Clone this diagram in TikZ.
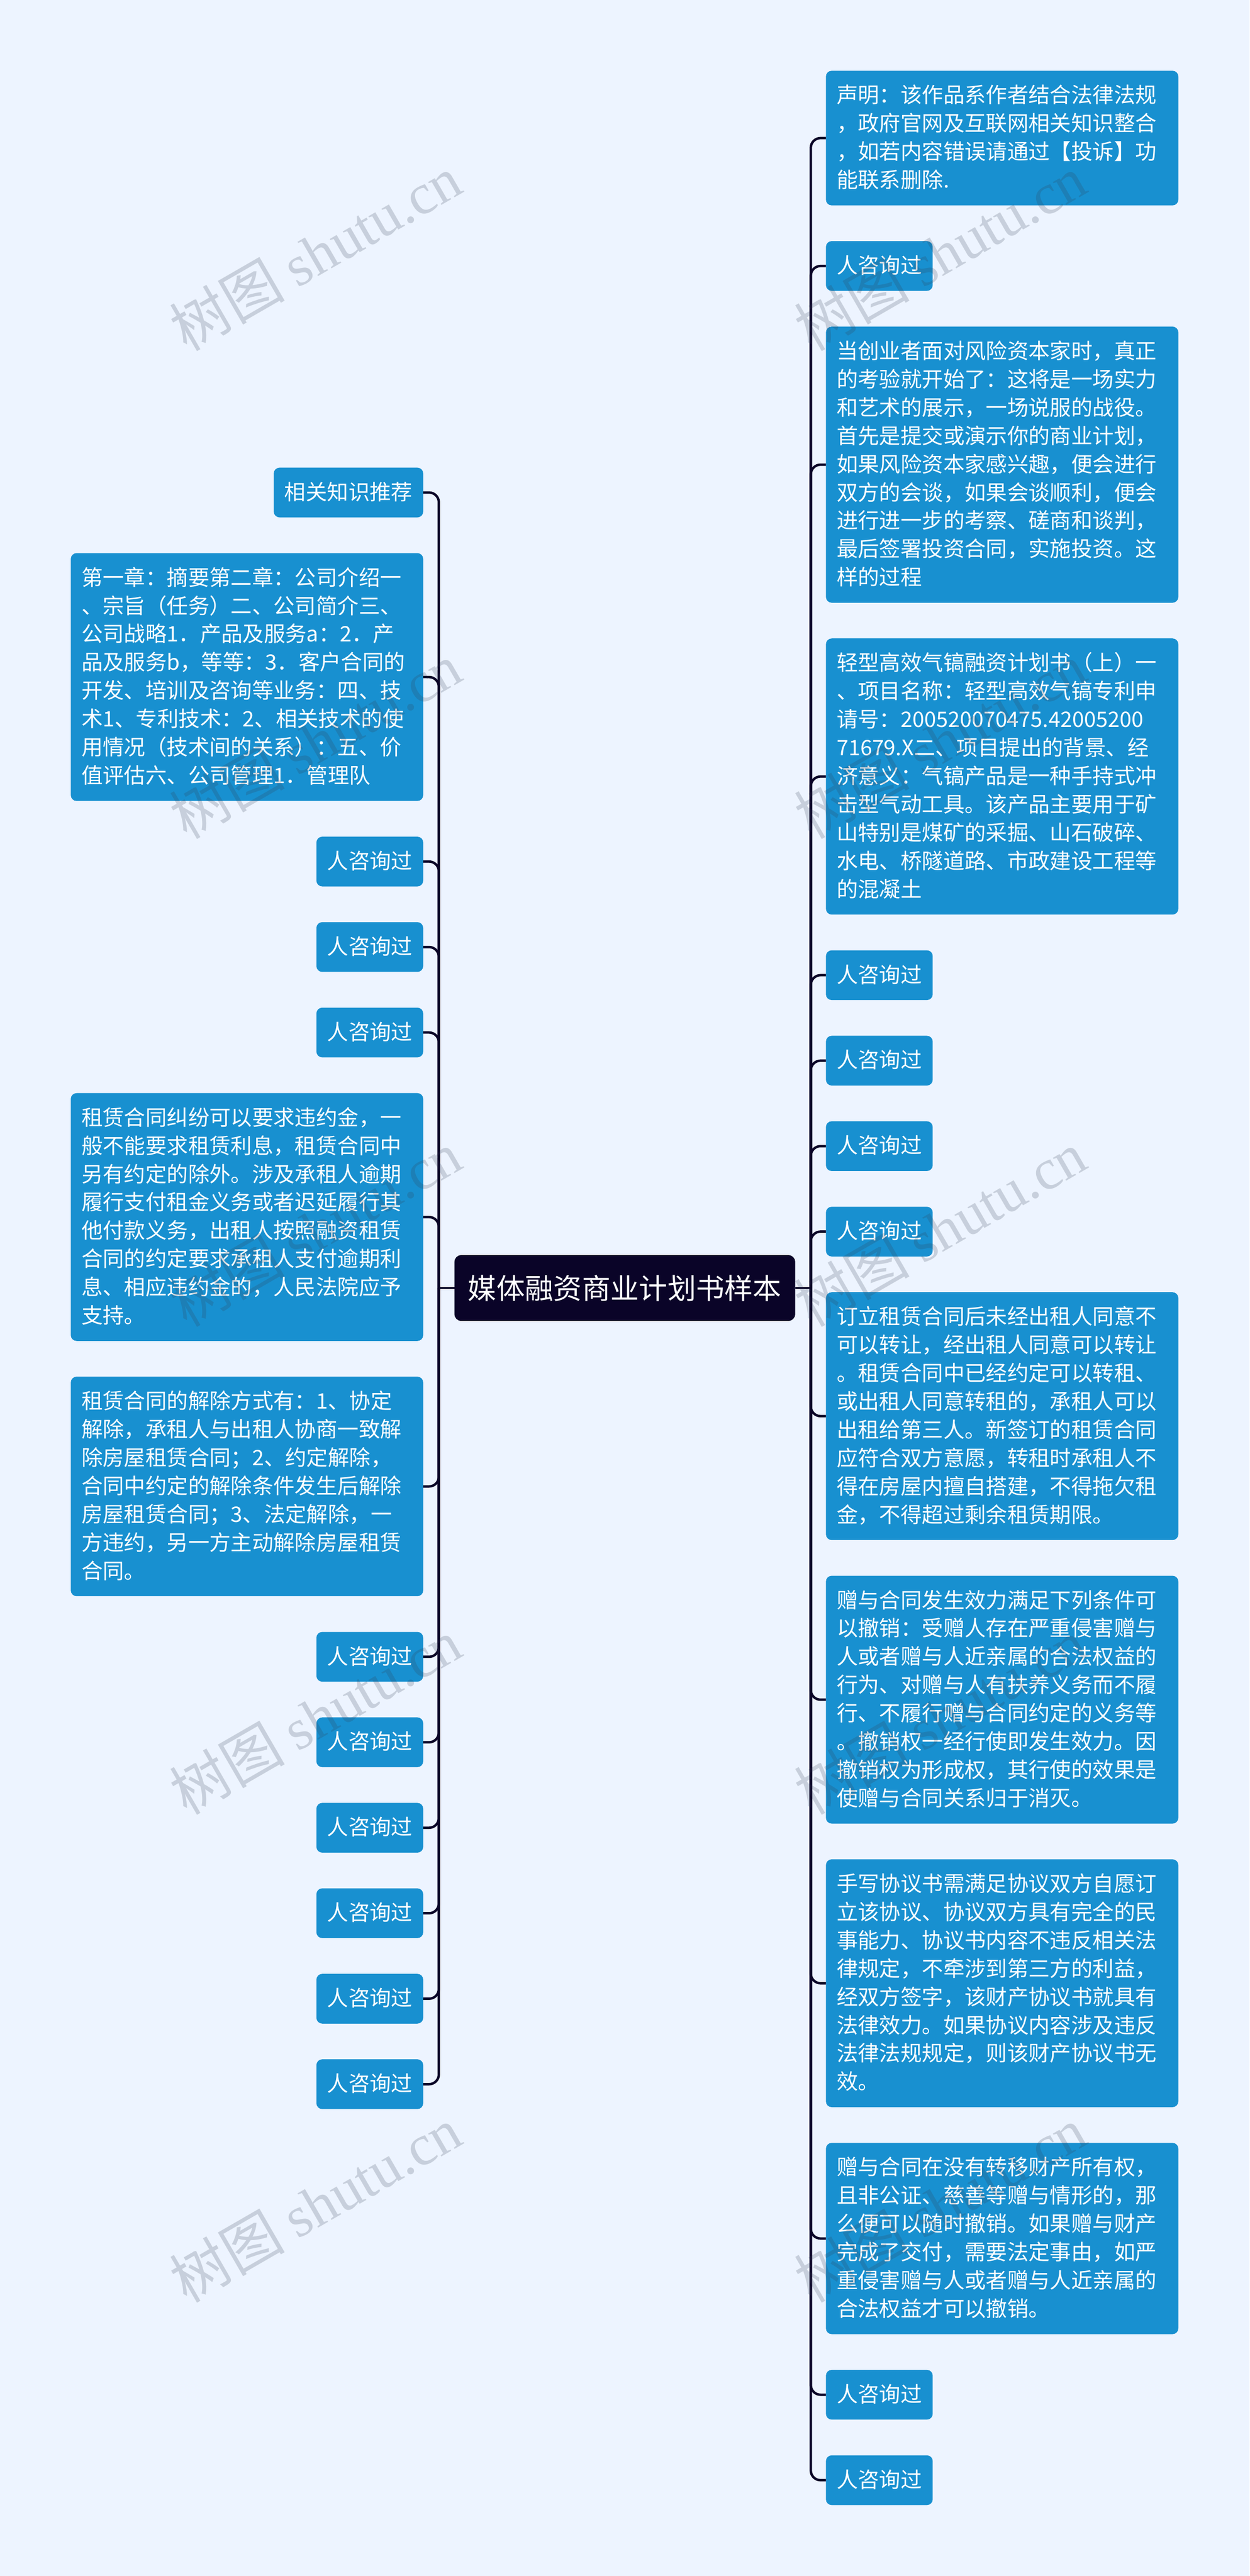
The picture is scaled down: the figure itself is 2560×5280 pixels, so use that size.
\documentclass[tikz,border=0pt]{standalone}
\usepackage{fontspec}
\usepackage{tikz}
\usetikzlibrary{positioning}
\setmainfont{Noto Sans CJK SC}
\newfontfamily\markfont{Liberation Serif}
\definecolor{PageBg}{HTML}{EDF4FF}
\definecolor{LeafBg}{HTML}{1890D0}
\definecolor{RootBg}{HTML}{0A0428}
\definecolor{MarkInk}{HTML}{323C50}
\newcommand{\linestrut}{\rule[-7pt]{0pt}{29pt}}
\tikzstyle{Root}=[fill=RootBg, text=white, rounded corners=7pt, outer sep=0pt, minimum width=349pt, minimum height=67.5pt, inner sep=0pt, font=\fontsize{29.2}{36}\selectfont]
\tikzstyle{Leaf}=[fill=LeafBg, text=white, rounded corners=6pt, outer sep=0pt, inner xsep=11pt, inner ysep=11pt, font=\fontsize{21.85}{29}\selectfont, execute at begin node=\linestrut, execute at end node=\linestrut]
\tikzstyle{Para}=[Leaf, text width=339pt, align=left]
\tikzstyle{Link}=[draw=RootBg, line width=2.5pt, rounded corners=10pt, to path={|- (\tikztotarget)}]
\tikzstyle{Stub}=[draw=RootBg, line width=2.5pt]
\tikzstyle{WaterMark}=[rotate=30, text=MarkInk, text opacity=.2, font=\fontsize{59}{63}\selectfont]

\begin{document}
\begin{tikzpicture}[x=0.5pt, y=-0.5pt, node distance=36.6pt]
		\useasboundingbox (0,0) rectangle (2560,5280);
		\fill [PageBg] (0,0) rectangle (2560,5280);
		\node[Root] (root) at (1280,2640) {媒体融资商业计划书样本};
		\coordinate (trunkL) at (899,2640);
		\coordinate (trunkR) at (1661,2640);
		% left side
		\node[Leaf, anchor=north east] (l1) at (867,958.5) {相关知识推荐};
		\node[Para, below=of l1.south east, anchor=north east] (l2) {第一章：摘要第二章：公司介绍一\\、宗旨（任务）二、公司简介三、\\公司战略1．产品及服务a：2．产\\品及服务b，等等：3．客户合同的\\开发、培训及咨询等业务：四、技\\术1、专利技术：2、相关技术的使\\用情况（技术间的关系）：五、价\\值评估六、公司管理1．管理队};
		\node[Leaf, below=of l2.south east, anchor=north east] (l3) {人咨询过};
		\node[Leaf, below=of l3.south east, anchor=north east] (l4) {人咨询过};
		\node[Leaf, below=of l4.south east, anchor=north east] (l5) {人咨询过};
		\node[Para, below=of l5.south east, anchor=north east] (l6) {租赁合同纠纷可以要求违约金，一\\般不能要求租赁利息，租赁合同中\\另有约定的除外。涉及承租人逾期\\履行支付租金义务或者迟延履行其\\他付款义务，出租人按照融资租赁\\合同的约定要求承租人支付逾期利\\息、相应违约金的，人民法院应予\\支持。};
		\node[Para, below=of l6.south east, anchor=north east] (l7) {租赁合同的解除方式有：1、协定\\解除，承租人与出租人协商一致解\\除房屋租赁合同；2、约定解除，\\合同中约定的解除条件发生后解除\\房屋租赁合同；3、法定解除，一\\方违约，另一方主动解除房屋租赁\\合同。};
		\node[Leaf, below=of l7.south east, anchor=north east] (l8) {人咨询过};
		\node[Leaf, below=of l8.south east, anchor=north east] (l9) {人咨询过};
		\node[Leaf, below=of l9.south east, anchor=north east] (l10) {人咨询过};
		\node[Leaf, below=of l10.south east, anchor=north east] (l11) {人咨询过};
		\node[Leaf, below=of l11.south east, anchor=north east] (l12) {人咨询过};
		\node[Leaf, below=of l12.south east, anchor=north east] (l13) {人咨询过};
		% right side
		\node[Para, anchor=north west] (r1) at (1692,145) {声明：该作品系作者结合法律法规\\，政府官网及互联网相关知识整合\\，如若内容错误请通过【投诉】功\\能联系删除.};
		\node[Leaf, below=of r1.south west, anchor=north west] (r2) {人咨询过};
		\node[Para, below=of r2.south west, anchor=north west] (r3) {当创业者面对风险资本家时，真正\\的考验就开始了：这将是一场实力\\和艺术的展示，一场说服的战役。\\首先是提交或演示你的商业计划，\\如果风险资本家感兴趣，便会进行\\双方的会谈，如果会谈顺利，便会\\进行进一步的考察、磋商和谈判，\\最后签署投资合同，实施投资。这\\样的过程};
		\node[Para, below=of r3.south west, anchor=north west] (r4) {轻型高效气镐融资计划书（上）一\\、项目名称：轻型高效气镐专利申\\请号：200520070475.42005200\\71679.X二、项目提出的背景、经\\济意义：气镐产品是一种手持式冲\\击型气动工具。该产品主要用于矿\\山特别是煤矿的采掘、山石破碎、\\水电、桥隧道路、市政建设工程等\\的混凝土};
		\node[Leaf, below=of r4.south west, anchor=north west] (r5) {人咨询过};
		\node[Leaf, below=of r5.south west, anchor=north west] (r6) {人咨询过};
		\node[Leaf, below=of r6.south west, anchor=north west] (r7) {人咨询过};
		\node[Leaf, below=of r7.south west, anchor=north west] (r8) {人咨询过};
		\node[Para, below=of r8.south west, anchor=north west] (r9) {订立租赁合同后未经出租人同意不\\可以转让，经出租人同意可以转让\\。租赁合同中已经约定可以转租、\\或出租人同意转租的，承租人可以\\出租给第三人。新签订的租赁合同\\应符合双方意愿，转租时承租人不\\得在房屋内擅自搭建，不得拖欠租\\金，不得超过剩余租赁期限。};
		\node[Para, below=of r9.south west, anchor=north west] (r10) {赠与合同发生效力满足下列条件可\\以撤销：受赠人存在严重侵害赠与\\人或者赠与人近亲属的合法权益的\\行为、对赠与人有扶养义务而不履\\行、不履行赠与合同约定的义务等\\。撤销权一经行使即发生效力。因\\撤销权为形成权，其行使的效果是\\使赠与合同关系归于消灭。};
		\node[Para, below=of r10.south west, anchor=north west] (r11) {手写协议书需满足协议双方自愿订\\立该协议、协议双方具有完全的民\\事能力、协议书内容不违反相关法\\律规定，不牵涉到第三方的利益，\\经双方签字，该财产协议书就具有\\法律效力。如果协议内容涉及违反\\法律法规规定，则该财产协议书无\\效。};
		\node[Para, below=of r11.south west, anchor=north west] (r12) {赠与合同在没有转移财产所有权，\\且非公证、慈善等赠与情形的，那\\么便可以随时撤销。如果赠与财产\\完成了交付，需要法定事由，如严\\重侵害赠与人或者赠与人近亲属的\\合法权益才可以撤销。};
		\node[Leaf, below=of r12.south west, anchor=north west] (r13) {人咨询过};
		\node[Leaf, below=of r13.south west, anchor=north west] (r14) {人咨询过};
		% connectors
		\draw[Stub] (root.west) -- (trunkL);
		\draw[Stub] (root.east) -- (trunkR);
		\path
		(trunkL) edge[Link] (l1.east) edge[Link] (l2.east) edge[Link] (l3.east) edge[Link] (l4.east)
		edge[Link] (l5.east) edge[Link] (l6.east) edge[Link] (l7.east) edge[Link] (l8.east)
		edge[Link] (l9.east) edge[Link] (l10.east) edge[Link] (l11.east) edge[Link] (l12.east) edge[Link] (l13.east)
		(trunkR) edge[Link] (r1.west) edge[Link] (r2.west) edge[Link] (r3.west) edge[Link] (r4.west)
		edge[Link] (r5.west) edge[Link] (r6.west) edge[Link] (r7.west) edge[Link] (r8.west)
		edge[Link] (r9.west) edge[Link] (r10.west) edge[Link] (r11.west) edge[Link] (r12.west)
		edge[Link] (r13.west) edge[Link] (r14.west)
		;
		% watermarks on top
		\node[WaterMark] (m1) at (646,518) {树图 {\markfont shutu.cn}};
		\node[WaterMark] (m2) at (1926,518) {树图 {\markfont shutu.cn}};
		\node[WaterMark] (m3) at (646,1518) {树图 {\markfont shutu.cn}};
		\node[WaterMark] (m4) at (1926,1518) {树图 {\markfont shutu.cn}};
		\node[WaterMark] (m5) at (646,2518) {树图 {\markfont shutu.cn}};
		\node[WaterMark] (m6) at (1926,2518) {树图 {\markfont shutu.cn}};
		\node[WaterMark] (m7) at (646,3518) {树图 {\markfont shutu.cn}};
		\node[WaterMark] (m8) at (1926,3518) {树图 {\markfont shutu.cn}};
		\node[WaterMark] (m9) at (646,4518) {树图 {\markfont shutu.cn}};
		\node[WaterMark] (m10) at (1926,4518) {树图 {\markfont shutu.cn}};
\end{tikzpicture}
\end{document}
